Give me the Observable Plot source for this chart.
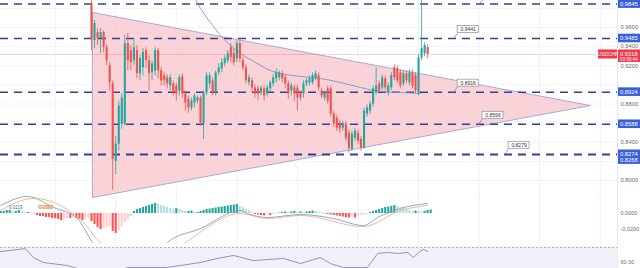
<!DOCTYPE html>
<html><head><meta charset="utf-8">
<script src="https://cdn.jsdelivr.net/npm/d3@7"></script>
<script src="https://cdn.jsdelivr.net/npm/@observablehq/plot@0.6"></script>
<style>
html,body{margin:0;padding:0;background:#fff;overflow:hidden}
#wrap{position:relative;width:640px;height:268px;overflow:hidden}
.panel{position:absolute;left:0}
</style></head>
<body><div id="wrap"><div class="panel" id="p1" style="top:0"></div><div class="panel" id="p2" style="top:196px"></div><div class="panel" id="p3" style="top:243px"></div></div>
<script>
// ---------- DATA ----------
const candleOpen  = [.9852,.9463,.9547,.9484,.9547,.9389,.9200,.9010,.8200,.8379,.8589,.8589,.9431,.9358,.9252,.9358,.9116,.9179,.9358,.9252,.9126,.9147,.9358,.9147,.9095,.9074,.8989,.9010,.8989,.8937,.9084,.8905,.8852,.8758,.8810,.8831,.8863,.8589,.8916,.9010,.9042,.8916,.9126,.9168,.9221,.9252,.9389,.9326,.9273,.9431,.9252,.9179,.9021,.9042,.8968,.8958,.8916,.8958,.8905,.8958,.9010,.9063,.9074,.9116,.9074,.9010,.8937,.8968,.8968,.8905,.8905,.9010,.9021,.9021,.9063,.9095,.8937,.8863,.8958,.8958,.8695,.8652,.8600,.8547,.8589,.8495,.8326,.8442,.8495,.8431,.8337,.8695,.8726,.8800,.8916,.9010,.8968,.9063,.8916,.8968,.9179,.9168,.9126,.9010,.9116,.9021,.9126,.9095,.8905,.9284,.9326,.9389];
const candleClose = [.9484,.9642,.9484,.9547,.9389,.9252,.9021,.8221,.8379,.8779,.8863,.9431,.9252,.9231,.9389,.9116,.9273,.9337,.9252,.9116,.9221,.9358,.9147,.9042,.9042,.9010,.9074,.8916,.8905,.9074,.8905,.8810,.8758,.8831,.8884,.8863,.8600,.8916,.9095,.9095,.8916,.9126,.9179,.9231,.9273,.9326,.9284,.9231,.9431,.9273,.9179,.9042,.9074,.8968,.8905,.8905,.8968,.8884,.8968,.9021,.9074,.9126,.9126,.9063,.9010,.8905,.8989,.8905,.8863,.8863,.9010,.9042,.9063,.9095,.9116,.8968,.8884,.8916,.8831,.8695,.8589,.8547,.8537,.8589,.8442,.8337,.8484,.8516,.8410,.8337,.8726,.8758,.8800,.8958,.8989,.8937,.9074,.8968,.8989,.9095,.9074,.9042,.8989,.9116,.9042,.9126,.8989,.8937,.9284,.9379,.9410,.9318];
const candleHigh  = [.9884,.9673,.9589,.9589,.9568,.9421,.9231,.9042,.8463,.8831,.8905,.9516,.9537,.9410,.9484,.9410,.9305,.9379,.9389,.9305,.9252,.9389,.9379,.9179,.9126,.9105,.9105,.9042,.9021,.9105,.9116,.8937,.8884,.8863,.8905,.8884,.8884,.8937,.9126,.9126,.9074,.9147,.9221,.9273,.9305,.9358,.9431,.9379,.9463,.9463,.9284,.9210,.9105,.9074,.9000,.8989,.8989,.8989,.9000,.9042,.9105,.9168,.9147,.9147,.9105,.9042,.9021,.9000,.9000,.8937,.9042,.9063,.9095,.9126,.9147,.9126,.8968,.8937,.8989,.8989,.8726,.8684,.8632,.8621,.8621,.8526,.8516,.8547,.8526,.8463,.8758,.8789,.8831,.8989,.9179,.9042,.9105,.9095,.9021,.9126,.9210,.9200,.9158,.9147,.9147,.9158,.9158,.9126,.9316,.9884,.9442,.9421];
const candleLow   = [.9358,.9379,.9410,.9326,.9337,.9200,.8937,.7895,.8063,.8305,.8537,.8568,.9147,.9147,.9200,.9063,.9042,.9095,.9168,.8937,.9042,.9095,.9063,.8989,.8989,.8958,.8937,.8884,.8831,.8884,.8863,.8726,.8705,.8726,.8758,.8800,.8568,.8431,.8884,.8958,.8884,.8884,.9095,.9126,.9189,.9221,.9231,.9200,.9231,.9231,.9147,.9010,.8989,.8916,.8863,.8831,.8884,.8831,.8874,.8916,.8979,.9021,.9042,.9021,.8958,.8852,.8884,.8831,.8726,.8831,.8863,.8979,.8989,.9000,.9042,.8937,.8852,.8831,.8800,.8663,.8558,.8516,.8495,.8516,.8410,.8284,.8305,.8410,.8379,.8305,.8326,.8663,.8695,.8768,.8895,.8905,.8937,.8937,.8884,.8937,.9042,.9010,.8958,.8979,.9010,.8989,.8958,.8905,.8884,.9252,.9295,.9273];

const levelValues = [0.9845, 0.9485, 0.8924, 0.8588, 0.8274, 0.8268];
const priceTicks  = [0.98, 0.96, 0.94, 0.92, 0.90, 0.88, 0.86, 0.84, 0.82, 0.80];

const triangleIndex = [0.3, 164.8, 0.3, 0.3];
const trianglePrice = [0.9757, 0.8784, 0.7822, 0.9757];

const maIndex = [34.5, 36, 39.3, 42.6, 45.2, 49.2, 54.2, 59.1, 64, 69, 75.6, 82.2, 88.8, 95.4, 102, 108.7];
const maValue = [.9882, .9799, .9652, .9516, .9433, .9328, .9234, .9150, .9109, .9088, .9067, .9025, .8973, .8931, .8920, .8910];

const annoText  = ["", "0.9441", "0.8916", "0.8596", "0.8279"];
const annoLevel = [0.9845, 0.9485, 0.8924, 0.8588, 0.8274];
const annoIndex = [128.1, 119.6, 119.6, 127.8, 136.4];

const symbolLabel = "USDCHF";
const countdown = "03:50:44";

const histStart = -30;
const macdHist = [.0025,.0025,.0038,.0038,.0025,.0025,.0038,.0025,.0013,.0013,
 .0006,-.0006,
 -.0025,-.0038,-.0038,-.005,-.005,-.0063,-.0063,-.0075,-.0088,
 -.0075,-.0063,-.0063,-.005,
 -.0063,-.0075,-.0088,
 -.0075,-.0063,
 -.01,-.0138,-.0175,-.02,
 -.0188,-.0175,-.0163,
 -.0225,-.025,
 -.0213,-.0163,-.0113,-.0075,
 -.0038,
 .0025,.005,.0063,.0075,.0088,.01,.0113,.0125,
 .0113,.01,.0088,.0075,.0063,.005,
 .0063,
 .005,.0038,.0025,.0025,
 .0031,
 .0013,.0013,
 .0025,.0038,.005,.0056,.0063,.0069,.0075,.0081,.0088,.0094,.01,.0106,.0113,
 .0088,.0075,.005,.0038,.0013,
 -.0013,-.0019,-.0025,-.0031,-.0019,-.0025,-.0013,
 -.0006,.0006,.0013,.0019,.0013,.0019,.0025,.0013,.0019,.0013,
 .0019,.0025,.0031,.0025,.0019,.0013,
 -.0006,-.0013,-.0019,
 -.0025,-.0031,-.0038,-.0044,-.005,-.0056,-.0044,-.0056,
 -.0038,-.0025,-.0019,-.0013,
 .0013,.0025,.0038,.005,.0063,.0075,.0081,.0088,.01,.0088,.0075,
 .0063,.005,.0038,.0025,
 .0031,.0025,.0019,.0025,.0038,.0044];

const macdIndex = [-30, -21.1, -12.5, -4.6, -2.6, 0.3, 3, 12.9, 22.8, 25.1, 36, 49.2, 51.5, 58.1, 69, 79.9, 89.8, 94.5, 102, 111];
const macdValue = [.01, .0213, .0075, -.0063, -.0175, -.0363, -.0488, -.0563, -.046, -.0363, -.0188, .0038, 0, -.005, -.0013, -.0063, -.015, -.005, .0063, .0125];
const signalIndex = [-30, -19.2, -2.6, 3, 12.9, 26.1, 31, 49.2, 58.1, 69, 89.8, 102, 111];
const signalValue = [.0038, .0188, -.0113, -.0363, -.0488, -.0488, -.0363, 0, -.0063, -.0025, -.0163, .0038, .01];
const macdTicks = [0, -0.02];
const macdLegend = ["0.0119", "0.0080"];

const rsiIndex = [-30, -21.8, -19.2, -15.9, -7.9, -0.3, 6.3, 11.9, 25.1, 36, 41.6, 46.9, 53.5, 63.4, 69, 75.6, 78.9, 83.2, 91.1, 94.5, 97.8, 101.1, 104.4, 106.3, 108, 109.6, 111];
const rsiValue = [67.3, 69.3, 63.3, 60, 58, 53.3, 51.3, 56.7, 56.7, 60, 62.7, 64.7, 61.3, 62.7, 59.3, 63.3, 59.3, 56.7, 56.7, 66, 66.7, 66, 66.7, 63.3, 66.7, 68.7, 67.3];
const rsiTicks = [60];

const gridIndex = [-12, 8, 28, 48, 68, 88, 108, 128, 148, 168];

// ---------- SETUP ----------
const W = 640, MR = 23, PW = W - MR;
const xDomain = [-30.05, 173.7];
const X1 = xDomain[1];
const pxX = (xDomain[1] - xDomain[0]) / PW;
const UP = "#26a69a", DOWN = "#ef5350";
const font = "'Liberation Sans', Arial, sans-serif";

const candles = candleOpen.map((o, i) => {
  let c = candleClose[i];
  const up = c >= o;
  if (Math.abs(c - o) < 0.0006) c = o + (up ? 0.0006 : -0.0006);
  return {i, o, c, h: candleHigh[i], l: candleLow[i], color: up ? UP : DOWN};
});
const lastClose = candleClose[candleClose.length - 1];
const triangle = triangleIndex.map((i, k) => ({i, p: trianglePrice[k]}));
const ma = maIndex.map((i, k) => ({i, p: maValue[k]}));

// ---------- MAIN PANEL ----------
const H1 = 200;
const mainY = [0.77908, 0.98824];
const pxY = (mainY[1] - mainY[0]) / H1;

// stack overlapping labels (TradingView pushes them apart)
const labels = levelValues.map(v => ({v, shift: 0}));
for (let k = 1; k < labels.length; k++) {
  const prevCenter = labels[k - 1].v - labels[k - 1].shift * pxY;
  if (Math.abs(prevCenter - labels[k].v) < 5 * pxY) labels[k].shift = (labels[k].v - prevCenter) / pxY + 5.8;
}
// gray tick labels that are hidden behind the level labels
const allTags = labels.map(d => d.v - d.shift * pxY).concat([lastClose]);
const visibleTicks = priceTicks.filter(t => allTags.every(v => Math.abs(v - t) > 7.5 * pxY));
const annos = annoText.map((t, k) => ({t, v: annoLevel[k], i: annoIndex[k]}));

const main = Plot.plot({
  width: W, height: H1, marginLeft: 0, marginTop: 0, marginBottom: 0, marginRight: MR,
  x: {domain: xDomain, axis: null},
  y: {domain: mainY, axis: null},
  color: {type: "identity"},
  style: {fontFamily: font, background: "transparent", overflow: "visible"},
  marks: [
    Plot.ruleY(priceTicks, {x1: xDomain[0], x2: X1, stroke: "#f0f3fa"}),
    Plot.ruleX(gridIndex, {stroke: "#eef0f6"}),
    Plot.ruleX([X1], {stroke: "#e6e8ee"}),
    Plot.line(triangle, {x: "i", y: "p", fill: "#f7c2c7", fillOpacity: 0.72, stroke: "#a9abd6", strokeWidth: 1, clip: true}),
    Plot.ruleY(levelValues, {x1: xDomain[0], x2: X1, stroke: "#363f92", strokeWidth: 1.5, strokeDasharray: "8,6"}),
    Plot.ruleY([lastClose], {x1: xDomain[0], x2: X1, stroke: DOWN, strokeOpacity: 0.35, strokeWidth: 0.8}),
    Plot.line(ma, {x: "i", y: "p", stroke: "#7d93cc", strokeWidth: 0.9, curve: "monotone-x", clip: true}),
    Plot.ruleX(candles, {x: "i", y1: "l", y2: "h", stroke: "color", strokeWidth: 0.8, clip: true}),
    Plot.ruleX(candles, {x: "i", y1: "o", y2: "c", stroke: "color", strokeWidth: 2.1, clip: true}),
    // annotations
    Plot.link(annos, {x1: "i", y1: "v", x2: d => d.i + 4 * pxX, y2: d => d.v + 5.5 * pxY, stroke: "#8a8d99", strokeWidth: 0.8}),
    Plot.rect(annos, {x1: d => d.i + 4 * pxX, x2: d => d.i + 25 * pxX, y1: d => d.v + 5.5 * pxY, y2: d => d.v + 12.5 * pxY, fill: "white", stroke: "#8a8d99", strokeWidth: 0.7, clip: true}),
    Plot.text(annos.filter(d => d.t), {x: d => d.i + 14.5 * pxX, y: d => d.v + 9 * pxY, text: "t", fontSize: 5, fill: "#333"}),
    // right axis gray ticks
    Plot.text(visibleTicks, {x: X1, y: d => d, dx: 3, textAnchor: "start", text: d => d.toFixed(4), fontSize: 5.8, fill: "#6b6e78"}),
    // blue level labels
    Plot.rect(labels, {x1: X1 + 1 * pxX, x2: X1 + 26 * pxX, y1: d => d.v - (d.shift + 4.3) * pxY, y2: d => d.v - (d.shift - 4.3) * pxY, fill: "#3a5fd9"}),
    Plot.text(labels, {x: X1 + 2.5 * pxX, y: d => d.v - d.shift * pxY, text: d => d.v.toFixed(4), textAnchor: "start", fontSize: 5.8, fill: "white"}),
    // red price label
    Plot.rect([lastClose], {x1: X1 - 19 * pxX, x2: X1, y1: d => d - 4.5 * pxY, y2: d => d + 4.5 * pxY, fill: "#f23645"}),
    Plot.text([lastClose], {x: X1 - 9.5 * pxX, y: d => d, text: () => symbolLabel, fontSize: 4.8, fill: "white"}),
    Plot.rect([lastClose], {x1: X1 + 1 * pxX, x2: X1 + 26 * pxX, y1: d => d - 8 * pxY, y2: d => d + 4.5 * pxY, fill: "#f23645"}),
    Plot.text([lastClose], {x: X1 + 2.5 * pxX, y: d => d, text: d => d.toFixed(4), textAnchor: "start", fontSize: 5.8, fill: "white"}),
    Plot.text([lastClose], {x: X1 + 2.5 * pxX, y: d => d - 5 * pxY, text: () => countdown, textAnchor: "start", fontSize: 4.6, fill: "white"})
  ]
});
document.getElementById("p1").appendChild(main);

// ---------- MACD PANEL ----------
const H2 = 47;
const macdY = [-0.0375, 0.02125];
const hist = macdHist.map((v, k) => {
  const prev = k > 0 ? macdHist[k - 1] : v;
  const color = v >= 0 ? (v >= prev ? "#26a69a" : "#b2dfdb") : (v <= prev ? "#ff5252" : "#ffcdd2");
  return {i: histStart + k, v, color};
});
const macdLine = macdIndex.map((i, k) => ({i, v: macdValue[k]}));
const signalLine = signalIndex.map((i, k) => ({i, v: signalValue[k]}));

const macd = Plot.plot({
  width: W, height: H2, marginLeft: 0, marginTop: 0, marginBottom: 0, marginRight: MR,
  x: {domain: xDomain, axis: null},
  y: {domain: macdY, axis: null},
  color: {type: "identity"},
  style: {fontFamily: font, background: "transparent", overflow: "visible"},
  marks: [
    Plot.ruleX(gridIndex, {stroke: "#eef0f6"}),
    Plot.ruleX([X1], {stroke: "#e6e8ee"}),
    Plot.ruleX(hist, {x: "i", y1: 0, y2: "v", stroke: "color", strokeWidth: 2.1, clip: true}),
    Plot.line(macdLine, {x: "i", y: "v", stroke: "#7f9bd6", strokeWidth: 0.9, curve: "monotone-x", clip: true}),
    Plot.line(signalLine, {x: "i", y: "v", stroke: "#f0b07a", strokeWidth: 0.9, curve: "monotone-x", clip: true}),
    Plot.text(macdTicks, {x: X1, y: d => d, dx: 3, textAnchor: "start", text: d => d.toFixed(4), fontSize: 5.5, fill: "#6b6e78"}),
    Plot.text([macdLegend[0]], {x: -25, y: 0.008, text: d => d, fontSize: 4.5, fill: "#4a63b8"}),
    Plot.rect([macdLegend[1]], {x1: -17.3, x2: -12.8, y1: 0.0062, y2: 0.0098, fill: "#fde7d3", stroke: "#f0a060", strokeWidth: 0.5}),
    Plot.text([macdLegend[1]], {x: -15, y: 0.008, text: d => d, fontSize: 4.5, fill: "#d57a2a"})
  ]
});
document.getElementById("p2").appendChild(macd);

// ---------- RSI PANEL ----------
const H3 = 25;
const rsiY = [56, 72.67];
const rsi = rsiIndex.map((i, k) => ({i, v: rsiValue[k]}));
const rsiPlot = Plot.plot({
  width: W, height: H3, marginLeft: 0, marginTop: 0, marginBottom: 0, marginRight: MR,
  x: {domain: xDomain, axis: null},
  y: {domain: rsiY, axis: null},
  style: {fontFamily: font, background: "transparent", overflow: "visible"},
  marks: [
    Plot.rect([0], {x1: xDomain[0], x2: X1, y1: 30, y2: 70, fill: "#7e57c2", fillOpacity: 0.09, clip: true}),
    Plot.ruleX(gridIndex, {stroke: "#eef0f6"}),
    Plot.ruleX([X1], {stroke: "#e6e8ee"}),
    Plot.ruleY([70], {x1: xDomain[0], x2: X1, stroke: "#9a9cab", strokeWidth: 0.8, strokeDasharray: "2,2"}),
    Plot.line(rsi, {x: "i", y: "v", stroke: "#8c84b8", strokeWidth: 0.9, clip: true}),
    Plot.text(rsiTicks, {x: X1, y: d => d, dx: 3, textAnchor: "start", text: d => d.toFixed(2), fontSize: 5.5, fill: "#6b6e78"})
  ]
});
document.getElementById("p3").appendChild(rsiPlot);
</script>
</body></html>
